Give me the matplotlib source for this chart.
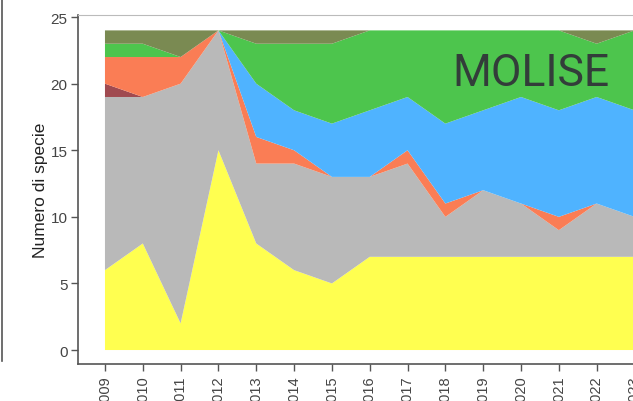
import numpy as np
import matplotlib
matplotlib.use('Agg')
import matplotlib.pyplot as plt
from matplotlib.lines import Line2D

# anni e numero di specie per gruppo (impilati dal basso)
anni = [2009, 2010, 2011, 2012, 2013, 2014, 2015, 2016,
        2017, 2018, 2019, 2020, 2021, 2022, 2023]
giallo = [6, 8, 2, 15, 8, 6, 5, 7, 7, 7, 7, 7, 7, 7, 7]
grigio = [13, 11, 18, 9, 6, 8, 8, 6, 7, 3, 5, 4, 2, 4, 3]
rosso_scuro = [1, 0, 0, 0, 0, 0, 0, 0, 0, 0, 0, 0, 0, 0, 0]
corallo = [2, 3, 2, 0, 2, 1, 0, 0, 1, 1, 0, 0, 1, 0, 0]
azzurro = [0, 0, 0, 0, 4, 3, 4, 5, 4, 6, 6, 8, 8, 8, 8]
verde = [1, 1, 0, 0, 3, 5, 6, 6, 5, 7, 6, 5, 6, 4, 6]
oliva = [1, 1, 2, 0, 1, 1, 1, 0, 0, 0, 0, 0, 0, 1, 0]

colori = ['#FFFF50', '#B9B9B9', '#A04A50', '#FA7D55',
          '#4FB3FF', '#4DC54D', '#7A8A52']

plt.rcParams['font.family'] = ['Liberation Sans', 'DejaVu Sans']

fig = plt.figure(figsize=(6.33, 4.02), dpi=100)
ax = fig.add_axes([0.124, 0.092, 0.919, 0.868])

ax.stackplot(anni, giallo, grigio, rosso_scuro, corallo, azzurro, verde, oliva,
             colors=colori, linewidth=0)

ax.set_xlim(2008.30, 2023.68)
ax.set_ylim(-1.05, 25.15)
ax.set_xticks(anni)
ax.set_xticklabels([str(a) for a in anni], rotation=90, fontsize=10.5, color='#444444')
ax.set_yticks([0, 5, 10, 15, 20, 25])
ax.tick_params(axis='y', labelsize=11, labelcolor='#444444')
ax.tick_params(length=5, width=1, color='#555555', pad=3)
ax.set_ylabel('Numero di specie', fontsize=12.5, color='#222222', labelpad=1.5)

ax.spines['top'].set_color('#BBBBBB')
ax.spines['left'].set_color('#555555')
ax.spines['bottom'].set_color('#555555')
ax.spines['right'].set_visible(False)
ax.spines['left'].set_linewidth(1.2)
ax.spines['bottom'].set_linewidth(1.2)

fig.text(452 / 633, 1 - 86 / 402, 'MOLISE', family='Roboto', fontsize=32,
         color='#333D3A', ha='left', va='baseline')

# bordo del pannello a sinistra (tagliato)
fig.add_artist(Line2D([2 / 633, 2 / 633], [1.0, 1 - 362 / 402],
                      transform=fig.transFigure, color='#555555', lw=1.2))

plt.savefig('out.png', dpi=100)
plt.close()
